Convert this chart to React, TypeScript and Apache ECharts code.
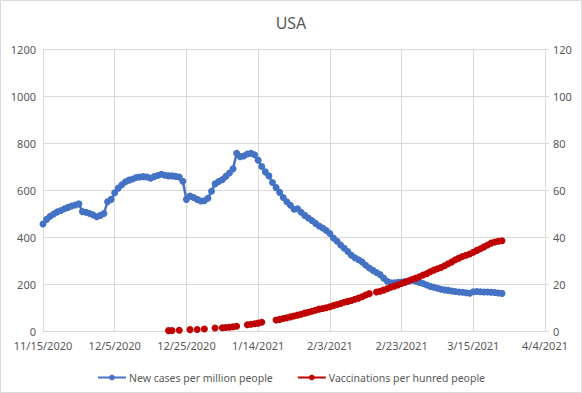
import React, { useEffect, useRef } from "react";
import * as echarts from "echarts";

// Day 0 = 11/15/2020
const startDateUTC = Date.UTC(2020, 10, 15);
const xTickDays = [0, 20, 40, 60, 80, 100, 120, 140];
const leftTicks = [0, 200, 400, 600, 800, 1000, 1200];
const rightTicks = [0, 20, 40, 60, 80, 100, 120];

const seriesNames = ["New cases per million people", "Vaccinations per hunred people"];

// New cases per million people, one value per day from 11/15/2020
const caseValues = [
  455, 475, 488, 498, 507, 513, 520, 526, 532, 536,
  541, 508, 505, 500, 494, 486, 492, 500, 550, 560,
  588, 608, 622, 635, 642, 647, 653, 655, 657, 655,
  650, 657, 662, 667, 663, 660, 660, 658, 655, 637,
  560, 574, 568, 560, 553, 554, 565, 595, 626, 636,
  644, 658, 672, 690, 756, 742, 745, 753, 756, 750,
  727, 700, 677, 660, 632, 610, 590, 568, 550, 535,
  518, 520, 505, 492, 481, 470, 458, 447, 438, 428,
  415, 396, 382, 366, 352, 338, 322, 312, 303, 294,
  280, 268, 258, 249, 240, 225, 212, 205, 205, 207,
  208, 210, 212, 216, 212, 206, 202, 196, 190, 186,
  182, 178, 175, 173, 170, 168, 166, 165, 163, 161,
  167, 168, 167, 166, 166, 165, 164, 162, 160,
];

// Vaccinations per hundred people, one entry per day from 12/20/2020 (day 35); null = no report
const vaxStartDay = 35;
const vaxValues: (number | null)[] = [
  0.17, 0.18, null, 0.31, null, null, 0.58, null, 0.64, null,
  0.84, null, null, 1.29, null, 1.35, 1.46, 1.61, 1.79, 2.02,
  null, null, 2.69, 2.87, 3.06, 3.34, 3.7, null, null, null,
  4.7, 4.95, 5.3, 5.6, 6.0, 6.4, 6.75, 7.1, 7.6, 8.0,
  8.4, 8.8, 9.3, 9.6, 9.9, 10.3, 10.8, 11.3, 11.7, 12.2,
  12.6, 13.0, 13.5, 14.0, 14.6, 15.3, 15.9, null, 16.6, 16.9,
  17.4, 18.0, 18.6, 19.1, 19.6, 20.2, 20.8, 21.4, 22.0, 22.5,
  23.1, 23.8, 24.4, 25.2, 25.9, 26.5, 27.0, 27.8, 28.6, 29.4,
  30.3, 31.0, 31.7, 32.2, 32.8, 33.5, 34.3, 35.0, 35.8, 36.6,
  37.4, 37.9, 38.2, 38.4,
];

const FONT = "Noto Sans";
const TEXT = "#595959";
const GRID = "#d9d9d9";

function dayLabel(d: number): string {
  const dt = new Date(startDateUTC + d * 86400000);
  return `${dt.getUTCMonth() + 1}/${dt.getUTCDate()}/${dt.getUTCFullYear()}`;
}

export default function App() {
  const ref = useRef<HTMLDivElement>(null);
  useEffect(() => {
    document.body.style.margin = "0";
    if (!ref.current) return;
    const chart = echarts.init(ref.current, null, { renderer: "svg" });
    const caseData = caseValues.map((v, i) => [i, v]);
    const vaxData = vaxValues.map((v, i) => [i + vaxStartDay, v == null ? "-" : v]);
    chart.setOption({
      animation: false,
      backgroundColor: "#ffffff",
      textStyle: { fontFamily: FONT },
      title: {
        text: "USA",
        left: "center",
        top: 10,
        textStyle: { color: TEXT, fontSize: 16, fontWeight: "normal", fontFamily: FONT },
      },
      graphic: [
        {
          type: "rect",
          shape: { x: 0.5, y: 0.5, width: 581, height: 392 },
          style: { fill: "none", stroke: GRID, lineWidth: 1 },
          silent: true,
        },
      ],
      grid: { left: 43, right: 37, top: 49, bottom: 62, containLabel: false },
      legend: {
        top: 367,
        left: "center",
        itemWidth: 28,
        itemHeight: 7,
        itemGap: 24,
        textStyle: { color: TEXT, fontSize: 10.5, fontFamily: FONT, padding: [0, 0, 0, -2] },
        data: seriesNames,
      },
      xAxis: {
        type: "value",
        min: xTickDays[0],
        max: xTickDays[xTickDays.length - 1],
        interval: 20,
        axisLine: { show: true, lineStyle: { color: GRID } },
        axisTick: { show: false },
        splitLine: { show: true, lineStyle: { color: GRID } },
        axisLabel: {
          color: TEXT,
          fontSize: 11,
          fontFamily: FONT,
          margin: 9,
          formatter: (v: number) => dayLabel(v),
        },
      },
      yAxis: [
        {
          type: "value",
          min: leftTicks[0],
          max: leftTicks[leftTicks.length - 1],
          interval: 200,
          axisLine: { show: false },
          axisTick: { show: false },
          splitLine: { show: true, lineStyle: { color: GRID } },
          axisLabel: { color: TEXT, fontSize: 11, fontFamily: FONT, margin: 7, formatter: (v: number) => String(v) },
        },
        {
          type: "value",
          position: "right",
          min: rightTicks[0],
          max: rightTicks[rightTicks.length - 1],
          interval: 20,
          axisLine: { show: true, lineStyle: { color: GRID } },
          axisTick: { show: true, length: 4, lineStyle: { color: GRID } },
          splitLine: { show: false },
          axisLabel: { color: TEXT, fontSize: 11, fontFamily: FONT, margin: 8, formatter: (v: number) => String(v) },
        },
      ],
      series: [
        {
          name: seriesNames[0],
          type: "line",
          yAxisIndex: 0,
          data: caseData,
          symbol: "circle",
          symbolSize: 7,
          showSymbol: true,
          lineStyle: { color: "#4472C4", width: 2.5 },
          itemStyle: { color: "#4472C4" },
        },
        {
          name: seriesNames[1],
          type: "line",
          yAxisIndex: 1,
          data: vaxData,
          connectNulls: false,
          symbol: "circle",
          symbolSize: 7,
          showSymbol: true,
          lineStyle: { color: "#C00000", width: 2.5 },
          itemStyle: { color: "#C00000" },
        },
      ],
    });
    return () => chart.dispose();
  }, []);
  return <div ref={ref} style={{ width: 582, height: 393 }} />;
}
